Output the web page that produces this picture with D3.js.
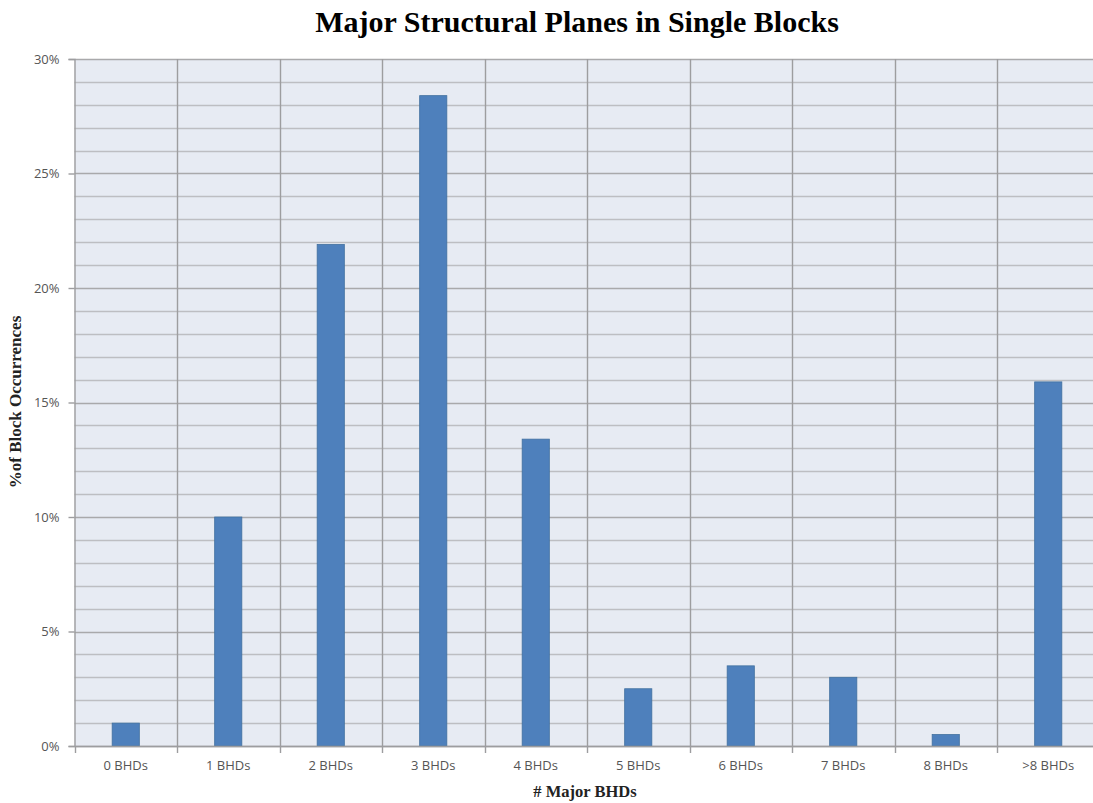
<!DOCTYPE html>
<html>
<head>
<meta charset="utf-8">
<script src="https://cdn.jsdelivr.net/npm/d3@7"></script>
<style>
  html, body { margin: 0; padding: 0; background: #ffffff; }
  svg { display: block; }
</style>
</head>
<body>
<svg id="chart" width="1093" height="803"></svg>
<script>
// Share of single blocks by number of major structural planes (BHDs)
const categories = ["0 BHDs", "1 BHDs", "2 BHDs", "3 BHDs", "4 BHDs", "5 BHDs", "6 BHDs", "7 BHDs", "8 BHDs", ">8 BHDs"];
const percentValues = [1.0, 10.0, 21.9, 28.4, 13.4, 2.5, 3.5, 3.0, 0.5, 15.9];
const yTickValues = [0, 5, 10, 15, 20, 25, 30];
const yMinorValues = d3.range(0, 31, 1);

const svg = d3.select("#chart");
const margin = { left: 74.5, right: -6.5, top: 59, bottom: 57 };
const W = 1093, H = 803;
const plotLeft = margin.left, plotRight = W - margin.right;
const plotTop = margin.top, plotBottom = H - margin.bottom;

const x = d3.scaleBand().domain(categories).range([plotLeft, plotRight]).padding(0);
const y = d3.scaleLinear().domain([0, 30]).range([plotBottom, plotTop]);

const labelFont = "'Open Sans', 'Liberation Sans', sans-serif";
const titleFont = "'Liberation Serif', 'Times New Roman', serif";

// plot background
svg.append("rect")
  .attr("x", plotLeft).attr("y", plotTop)
  .attr("width", plotRight - plotLeft).attr("height", plotBottom - plotTop)
  .attr("fill", "#e7ebf3");

// horizontal gridlines at every percent
svg.append("g").selectAll("line").data(yMinorValues).join("line")
  .attr("x1", plotLeft).attr("x2", plotRight)
  .attr("y1", d => Math.round(y(d)) + 0.5).attr("y2", d => Math.round(y(d)) + 0.5)
  .attr("stroke", d => d % 5 === 0 ? "#a9a9ab" : "#bdbec2")
  .attr("stroke-width", 1.6);

// vertical gridlines between categories
svg.append("g").selectAll("line").data(categories.slice(1)).join("line")
  .attr("x1", d => Math.round(x(d)) + 0.5).attr("x2", d => Math.round(x(d)) + 0.5)
  .attr("y1", plotTop).attr("y2", plotBottom)
  .attr("stroke", "#9d9d9f").attr("stroke-width", 1.4);

// bars
const barFrac = 0.265;
svg.append("g").selectAll("rect").data(percentValues).join("rect")
  .attr("x", (d, i) => x(categories[i]) + x.bandwidth() * (1 - barFrac) / 2)
  .attr("width", x.bandwidth() * barFrac)
  .attr("y", d => y(d))
  .attr("height", d => y(0) - y(d))
  .attr("fill", "#4e80bc")
  .attr("stroke", "#41709f").attr("stroke-width", 0.8);

// y axis
const yAxis = d3.axisLeft(y).tickValues(yTickValues).tickFormat(d => d + "%").tickSize(6).tickPadding(9);
const gy = svg.append("g").attr("transform", `translate(${plotLeft},0)`).call(yAxis);
gy.select(".domain").attr("stroke", "#9d9d9f").attr("stroke-width", 1.4);
gy.selectAll(".tick line").attr("stroke", "#9d9d9f").attr("stroke-width", 1.4);
gy.selectAll(".tick text")
  .attr("fill", "#555555").style("font-family", labelFont).style("font-size", "13px");

// x axis with ticks on category boundaries
const xAxis = d3.axisBottom(x).tickSize(0).tickPadding(15);
const gx = svg.append("g").attr("transform", `translate(0,${plotBottom})`).call(xAxis);
gx.select(".domain").attr("stroke", "#9d9d9f").attr("stroke-width", 1.4);
gx.selectAll(".tick text")
  .attr("fill", "#555555").style("font-family", labelFont).style("font-size", "13px");
gx.append("g").selectAll("line").data(categories).join("line")
  .attr("x1", d => Math.round(x(d)) + 0.5).attr("x2", d => Math.round(x(d)) + 0.5)
  .attr("y1", 0).attr("y2", 7)
  .attr("stroke", "#9d9d9f").attr("stroke-width", 1.4);

// titles
svg.append("text")
  .attr("x", 577).attr("y", 32)
  .attr("text-anchor", "middle")
  .style("font-family", titleFont)
  .style("font-weight", "bold").style("font-size", "30px")
  .attr("fill", "#000").text("Major Structural Planes in Single Blocks");

svg.append("text")
  .attr("x", 585).attr("y", 797)
  .attr("text-anchor", "middle")
  .style("font-family", titleFont)
  .style("font-weight", "bold").style("font-size", "16.5px")
  .attr("fill", "#222").text("# Major BHDs");

svg.append("text")
  .attr("transform", "translate(21,402) rotate(-90)")
  .attr("text-anchor", "middle")
  .style("font-family", titleFont)
  .style("font-weight", "bold").style("font-size", "17px")
  .attr("fill", "#222").text("%of Block Occurrences");
</script>
</body>
</html>
